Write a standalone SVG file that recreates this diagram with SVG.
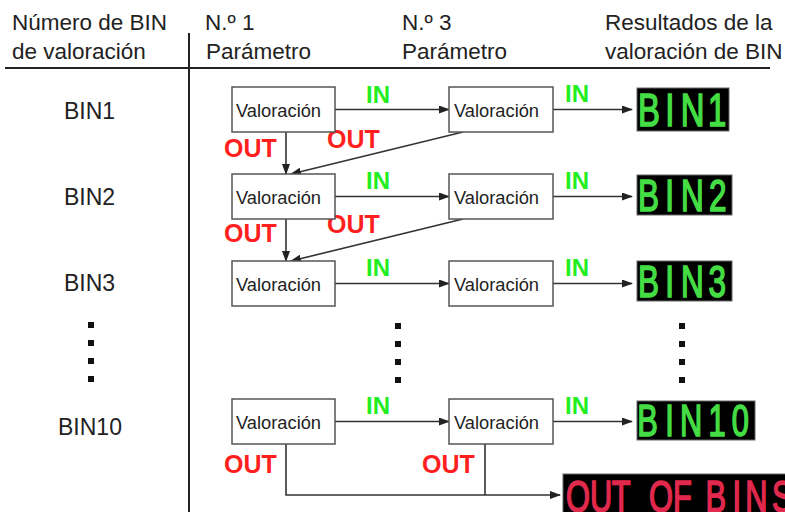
<svg xmlns="http://www.w3.org/2000/svg" width="785" height="512" viewBox="0 0 785 512">
<defs>
<style>
.hd{font-family:"Liberation Sans",Arial,sans-serif;font-size:22.5px;fill:#222}
.lb{font-family:"Liberation Sans",Arial,sans-serif;font-size:23px;fill:#222}
.bx{fill:#fff;stroke:#555;stroke-width:1.5}
.bt{font-family:"Liberation Sans",Arial,sans-serif;font-size:18.3px;fill:#222}
.in{font-family:"Liberation Sans",Arial,sans-serif;font-size:24px;font-weight:bold;fill:#22ee22}
.out{font-family:"Liberation Sans",Arial,sans-serif;font-size:25px;font-weight:bold;fill:#ff1f1f}
.ln{fill:none;stroke:#333;stroke-width:1.6}
.disp{fill:#000;stroke:#666;stroke-width:1}
.dg{font-family:"Liberation Sans",Arial,sans-serif;fill:#44dd44;stroke:#44dd44;stroke-width:1.7}
.dr{font-family:"Liberation Sans",Arial,sans-serif;fill:#e0294d;stroke:#e0294d;stroke-width:1.7}
.dot{fill:#111}
</style>
<marker id="ah" markerWidth="11" markerHeight="8" refX="10" refY="4" orient="auto" markerUnits="userSpaceOnUse">
<path d="M0,0 L11,4 L0,8 z" fill="#222"/>
</marker>
</defs>
<rect width="785" height="512" fill="#fff"/>

<g id="header">
<text class="hd" x="12" y="30">Número de BIN</text>
<text class="hd" x="12" y="59">de valoración</text>
<text class="hd" x="205" y="30">N.º 1</text>
<text class="hd" x="206" y="59">Parámetro</text>
<text class="hd" x="402" y="30">N.º 3</text>
<text class="hd" x="402" y="59">Parámetro</text>
<text class="hd" x="605" y="30">Resultados de la</text>
<text class="hd" x="605" y="59">valoración de BIN</text>
<line x1="5" y1="68" x2="770" y2="68" stroke="#222" stroke-width="2"/>
<line x1="189" y1="33" x2="189" y2="512" stroke="#222" stroke-width="2"/>
</g>

<g id="row-labels">
<text class="lb" x="64" y="119">BIN1</text>
<text class="lb" x="64" y="205">BIN2</text>
<text class="lb" x="64" y="291">BIN3</text>
<text class="lb" x="58" y="435">BIN10</text>
<rect class="dot" x="88" y="322" width="6" height="6"/>
<rect class="dot" x="88" y="340" width="6" height="6"/>
<rect class="dot" x="88" y="358" width="6" height="6"/>
<rect class="dot" x="88" y="376" width="6" height="6"/>
<rect class="dot" x="395" y="323" width="6" height="6"/>
<rect class="dot" x="395" y="341" width="6" height="6"/>
<rect class="dot" x="395" y="359" width="6" height="6"/>
<rect class="dot" x="395" y="377" width="6" height="6"/>
<rect class="dot" x="679" y="323" width="6" height="6"/>
<rect class="dot" x="679" y="341" width="6" height="6"/>
<rect class="dot" x="679" y="359" width="6" height="6"/>
<rect class="dot" x="679" y="377" width="6" height="6"/>
</g>

<g id="connectors">
<line class="ln" x1="335" y1="109.5" x2="449" y2="109.5" marker-end="url(#ah)"/>
<line class="ln" x1="553" y1="109.5" x2="632" y2="109.5" marker-end="url(#ah)"/>
<line class="ln" x1="286" y1="132" x2="286" y2="174" marker-end="url(#ah)"/>
<line class="ln" x1="463" y1="132" x2="291" y2="174" marker-end="url(#ah)"/>
<line class="ln" x1="335" y1="196.5" x2="449" y2="196.5" marker-end="url(#ah)"/>
<line class="ln" x1="553" y1="196.5" x2="632" y2="196.5" marker-end="url(#ah)"/>
<line class="ln" x1="286" y1="219" x2="286" y2="261" marker-end="url(#ah)"/>
<line class="ln" x1="463" y1="219" x2="291" y2="261" marker-end="url(#ah)"/>
<line class="ln" x1="335" y1="283.5" x2="449" y2="283.5" marker-end="url(#ah)"/>
<line class="ln" x1="553" y1="283.5" x2="632" y2="283.5" marker-end="url(#ah)"/>
<line class="ln" x1="335" y1="421.5" x2="449" y2="421.5" marker-end="url(#ah)"/>
<line class="ln" x1="553" y1="421.5" x2="632" y2="421.5" marker-end="url(#ah)"/>
<polyline class="ln" points="286,444 286,495 560,495" marker-end="url(#ah)"/>
<line class="ln" x1="485" y1="444" x2="485" y2="495"/>
</g>

<g id="edge-labels">
<text class="in" x="366" y="103">IN</text>
<text class="in" x="565" y="102">IN</text>
<text class="in" x="366" y="189">IN</text>
<text class="in" x="565" y="189">IN</text>
<text class="in" x="366" y="276">IN</text>
<text class="in" x="565" y="276">IN</text>
<text class="in" x="366" y="414">IN</text>
<text class="in" x="565" y="414">IN</text>
<text class="out" x="224" y="157">OUT</text>
<text class="out" x="327" y="148">OUT</text>
<text class="out" x="224" y="242">OUT</text>
<text class="out" x="327" y="233">OUT</text>
<text class="out" x="224" y="473">OUT</text>
<text class="out" x="422" y="473">OUT</text>
</g>

<g id="n-r1c1"><rect class="bx" x="232" y="87" width="103" height="45"/><text class="bt" x="236" y="117">Valoración</text></g>
<g id="n-r1c2"><rect class="bx" x="449" y="87" width="104" height="45"/><text class="bt" x="454" y="117">Valoración</text></g>
<g id="n-r2c1"><rect class="bx" x="232" y="174" width="103" height="45"/><text class="bt" x="236" y="204">Valoración</text></g>
<g id="n-r2c2"><rect class="bx" x="449" y="174" width="104" height="45"/><text class="bt" x="454" y="204">Valoración</text></g>
<g id="n-r3c1"><rect class="bx" x="232" y="261" width="103" height="45"/><text class="bt" x="236" y="291">Valoración</text></g>
<g id="n-r3c2"><rect class="bx" x="449" y="261" width="104" height="45"/><text class="bt" x="454" y="291">Valoración</text></g>
<g id="n-r10c1"><rect class="bx" x="232" y="399" width="103" height="45"/><text class="bt" x="236" y="429">Valoración</text></g>
<g id="n-r10c2"><rect class="bx" x="449" y="399" width="104" height="45"/><text class="bt" x="454" y="429">Valoración</text></g>

<g id="d-bin1"><rect class="disp" x="637" y="88" width="92" height="43"/><text class="dg" font-size="47" transform="scale(0.7 1)" x="911.5 950.5 972.5 1011.4" y="126.5">BIN1</text></g>
<g id="d-bin2"><rect class="disp" x="637" y="175" width="95" height="40"/><text class="dg" font-size="45" transform="scale(0.7 1)" x="911.5 950.5 972.8 1012.9" y="211.5">BIN2</text></g>
<g id="d-bin3"><rect class="disp" x="637" y="261" width="95" height="40"/><text class="dg" font-size="45" transform="scale(0.7 1)" x="911.5 950.5 972.8 1012.3" y="297.5">BIN3</text></g>
<g id="d-bin10"><rect class="disp" x="637" y="401" width="118" height="39"/><text class="dg" font-size="44" transform="scale(0.7 1)" x="910.5 950.5 971.5 1012.3 1045.3" y="436.5">BIN10</text></g>
<g id="d-out"><rect class="disp" x="563" y="474" width="230" height="42"/><text class="dr" font-size="44" transform="scale(0.7 1)" x="808.5 843 874 900 927 961.5 990 1008 1046.5 1064.5 1103" y="512">OUT OF BINS</text></g>
</svg>
